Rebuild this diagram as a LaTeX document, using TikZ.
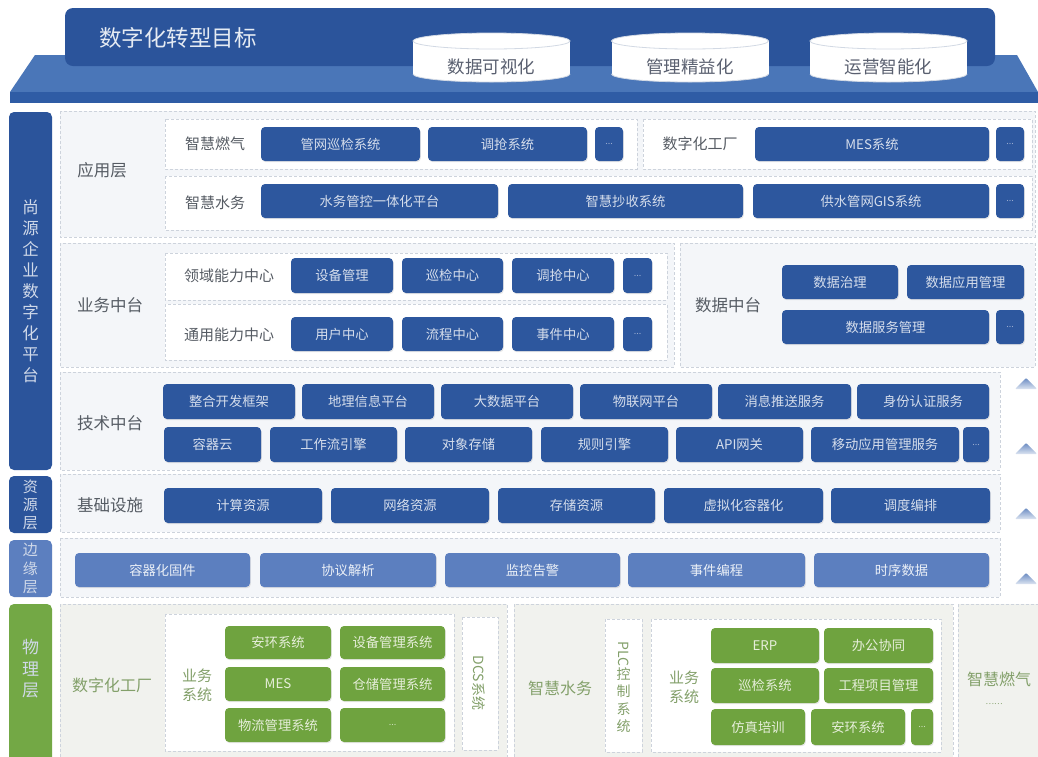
\documentclass[tikz,border=0pt]{standalone}
\usepackage{fontspec}
\setmainfont{Noto Sans CJK SC}
\usetikzlibrary{shadows}
\definecolor{dblue}{HTML}{2B549B}
\definecolor{band}{HTML}{4A76B8}
\definecolor{strip}{HTML}{2F5CA5}
\definecolor{btnblue}{HTML}{2D579E}
\definecolor{edgeblue}{HTML}{5C7FBF}
\definecolor{gbtncol}{HTML}{6FA33F}
\definecolor{gside}{HTML}{73A845}
\definecolor{regfill}{HTML}{F4F6F9}
\definecolor{regline}{HTML}{CDD3DC}
\definecolor{pfill}{HTML}{F1F2EE}
\definecolor{lbltext}{HTML}{555B63}
\definecolor{glbl}{HTML}{83A06A}
\definecolor{btntext}{HTML}{D6DEEC}
\definecolor{gtext}{HTML}{E6EEDA}
\definecolor{dotsc}{HTML}{9DB0D2}
\definecolor{cylline}{HTML}{D2D9E4}
\definecolor{cyltext}{HTML}{5A6070}
\definecolor{arrtop}{HTML}{6A8BC2}
\definecolor{arrbot}{HTML}{DCE4F1}

\newcommand\ZBox[7]{\node[#1, minimum width={(#5-#3)*1pt}, minimum height={(#6-#4)*1pt}] (#2) at ({(#3+#5)/2},{(#4+#6)/2}) {#7};}

\tikzset{
 base/.style={inner sep=0pt, outer sep=0pt, align=center},
 btn/.style={base, rounded corners=4pt, fill=btnblue, text=btntext, font=\fontsize{13.3}{15}\selectfont,
   drop shadow={opacity=0.18, shadow xshift=0.8pt, shadow yshift=-1.2pt}},
 ebtn/.style={btn, fill=edgeblue, text=white!88!edgeblue},
 gbtn/.style={btn, fill=gbtncol, text=gtext},
 dots/.style={btn, font=\fontsize{9}{10}\selectfont, text=dotsc},
 gdots/.style={gbtn, font=\fontsize{9}{10}\selectfont, text=gtext!80!gbtncol},
 region/.style={fill=regfill, draw=regline, dash pattern=on 3pt off 2pt, line width=0.7pt},
 pregion/.style={fill=pfill, draw=regline, dash pattern=on 3pt off 2pt, line width=0.7pt},
 wbox/.style={fill=white, draw=regline, dash pattern=on 3pt off 2pt, line width=0.7pt},
 lbl/.style={base, text=lbltext, font=\fontsize{16.5}{19}\selectfont},
 sublbl/.style={base, text=lbltext, font=\fontsize{15}{17}\selectfont},
 glabel/.style={base, text=glbl, font=\fontsize{16}{19}\selectfont},
 gsub/.style={base, text=glbl, font=\fontsize{15}{19}\selectfont},
 side/.style={base, rounded corners=5pt, text=white!78!dblue, font=\fontsize{16.5}{21}\selectfont},
 cyltxt/.style={base, text=cyltext, font=\fontsize{17.5}{20}\selectfont},
 arr/.style={top color=arrtop, bottom color=arrbot, rounded corners=1pt},
}

\begin{document}
\begin{tikzpicture}[x=1pt,y=-1pt]
\path[use as bounding box] (0,0) rectangle (1038,756);
\clip (0,0) rectangle (1038,756);
\fill[white] (0,0) rectangle (1038,756);

% ---------- top banner ----------
\fill[band] (35,55) -- (1017,55) -- (1038,92) -- (10,92) -- cycle;
\fill[strip] (10,92) rectangle (1038,103);
\fill[dblue, rounded corners=8pt] (65,8) rectangle (995,66);
\node[base, anchor=west, text=white!88!dblue, font=\fontsize{22.5}{26}\selectfont] (title) at (99,38) {数字化转型目标};

\foreach \cx/\nm/\tx in {491.5/c1/数据可视化, 690/c2/管理精益化, 888.5/c3/运营智能化}{
  \fill[white] (\cx,74) ellipse[x radius=78.5, y radius=8];
  \fill[white] ({\cx-78.5},41) rectangle ({\cx+78.5},74);
  \draw[cylline, line width=0.8pt] ({\cx+78.5},74) arc[start angle=0, end angle=180, x radius=78.5, y radius=8];
  \draw[cylline, line width=0.8pt, fill=white] (\cx,41) ellipse[x radius=78.5, y radius=8];
  \node[cyltxt] (\nm) at (\cx,67) {\tx};
}

% ---------- left sidebar ----------
\ZBox{side, fill=dblue}{sbA}{9}{112}{52}{470}{尚\\源\\企\\业\\数\\字\\化\\平\\台}
\ZBox{side, fill=dblue, font=\fontsize{15}{18}\selectfont}{sbB}{9}{476}{52}{533}{资\\源\\层}
\ZBox{side, fill=edgeblue, font=\fontsize{15}{18.5}\selectfont}{sbC}{9}{540}{52}{597}{边\\缘\\层}
\fill[gside, rounded corners=5pt] (9,604) rectangle (52,780);
\node[side, font=\fontsize{17}{21.5}\selectfont] (sbD) at (30.5,669) {物\\理\\层};

% ---------- application layer ----------
\draw[region] (60,111) rectangle (1035,237);
\draw[wbox] (165,119) rectangle (637,169);
\draw[wbox] (643,119) rectangle (1032,169);
\draw[wbox] (165,176) rectangle (1032,230);
\node[lbl] (app) at (102,170) {应用层};
\node[sublbl] (gas) at (215,144) {智慧燃气};
\node[sublbl] (wat) at (215,203) {智慧水务};
\node[sublbl] (fac) at (700,144) {数字化工厂};
\ZBox{btn}{a1}{261}{127}{420}{161}{管网巡检系统}
\ZBox{btn}{a2}{428}{127}{587}{161}{调抢系统}
\ZBox{dots}{a3}{595}{127}{623}{161}{...}
\ZBox{btn}{a4}{755}{127}{989}{161}{MES系统}
\ZBox{dots}{a5}{996}{127}{1024}{161}{...}
\ZBox{btn}{a6}{261}{184}{498}{218}{水务管控一体化平台}
\ZBox{btn}{a7}{508}{184}{743}{218}{智慧抄收系统}
\ZBox{btn}{a8}{753}{184}{989}{218}{供水管网GIS系统}
\ZBox{dots}{a9}{996}{184}{1024}{218}{...}

% ---------- business middle platform ----------
\draw[region] (60,243) rectangle (674,367);
\draw[wbox] (165,253) rectangle (667,300);
\draw[wbox] (165,304) rectangle (667,360);
\draw[region] (680,243) rectangle (1035,367);
\node[lbl] (biz) at (110,305) {业务中台};
\node[sublbl] (dom) at (229,276) {领域能力中心};
\node[sublbl] (gen) at (229,335) {通用能力中心};
\ZBox{btn}{b1}{291}{258}{393}{293}{设备管理}
\ZBox{btn}{b2}{402}{258}{503}{293}{巡检中心}
\ZBox{btn}{b3}{512}{258}{614}{293}{调抢中心}
\ZBox{dots}{b4}{623}{258}{652}{293}{...}
\ZBox{btn}{b5}{291}{317}{393}{351}{用户中心}
\ZBox{btn}{b6}{402}{317}{503}{351}{流程中心}
\ZBox{btn}{b7}{512}{317}{614}{351}{事件中心}
\ZBox{dots}{b8}{623}{317}{652}{351}{...}
\node[lbl] (dat) at (728,305) {数据中台};
\ZBox{btn}{d1}{782}{265}{898}{299}{数据治理}
\ZBox{btn}{d2}{907}{265}{1024}{299}{数据应用管理}
\ZBox{btn}{d3}{782}{310}{989}{344}{数据服务管理}
\ZBox{dots}{d4}{996}{310}{1024}{344}{...}

% ---------- technology middle platform ----------
\draw[region] (60,372) rectangle (1000,470);
\node[lbl] (tech) at (110,423) {技术中台};
\ZBox{btn}{t1}{163}{384}{295}{419}{整合开发框架}
\ZBox{btn}{t2}{302}{384}{434}{419}{地理信息平台}
\ZBox{btn}{t3}{441}{384}{573}{419}{大数据平台}
\ZBox{btn}{t4}{580}{384}{712}{419}{物联网平台}
\ZBox{btn}{t5}{718}{384}{851}{419}{消息推送服务}
\ZBox{btn}{t6}{857}{384}{989}{419}{身份认证服务}
\ZBox{btn}{t7}{164}{427}{261}{462}{容器云}
\ZBox{btn}{t8}{270}{427}{397}{462}{工作流引擎}
\ZBox{btn}{t9}{405}{427}{532}{462}{对象存储}
\ZBox{btn}{t10}{541}{427}{668}{462}{规则引擎}
\ZBox{btn}{t11}{676}{427}{803}{462}{API网关}
\ZBox{btn}{t12}{811}{427}{959}{462}{移动应用管理服务}
\ZBox{dots}{t13}{963}{427}{989}{462}{...}

% ---------- infrastructure ----------
\draw[region] (60,474) rectangle (1000,532);
\node[lbl] (infra) at (110,505) {基础设施};
\ZBox{btn}{r1}{164}{488}{322}{523}{计算资源}
\ZBox{btn}{r2}{331}{488}{489}{523}{网络资源}
\ZBox{btn}{r3}{498}{488}{655}{523}{存储资源}
\ZBox{btn}{r4}{664}{488}{823}{523}{虚拟化容器化}
\ZBox{btn}{r5}{831}{488}{990}{523}{调度编排}

% ---------- edge layer ----------
\draw[region] (60,538) rectangle (1000,597);
\ZBox{ebtn}{e1}{75}{553}{250}{587}{容器化固件}
\ZBox{ebtn}{e2}{260}{553}{436}{587}{协议解析}
\ZBox{ebtn}{e3}{445}{553}{620}{587}{监控告警}
\ZBox{ebtn}{e4}{628}{553}{805}{587}{事件编程}
\ZBox{ebtn}{e5}{814}{553}{989}{587}{时序数据}

% ---------- up arrows ----------
\foreach \yy in {378,443,508,573}{
  \shade[arr] (1015,{\yy+11}) -- (1026,\yy) -- (1037,{\yy+11}) -- cycle;
}

% ---------- physical layer ----------
\draw[pregion] (60,604) rectangle (507,770);
\draw[pregion] (514,604) rectangle (953,770);
\draw[pregion] (958,604) rectangle (1050,770);

\node[glabel] (pfac) at (112,685) {数字化工厂};
\draw[wbox] (165,614) rectangle (454,751);
\node[gsub] (pbiz1) at (197,685) {业务\\系统};
\ZBox{gbtn}{g1}{225}{626}{331}{659}{安环系统}
\ZBox{gbtn}{g2}{340}{626}{445}{659}{设备管理系统}
\ZBox{gbtn}{g3}{225}{667}{331}{701}{MES}
\ZBox{gbtn}{g4}{340}{667}{445}{701}{仓储管理系统}
\ZBox{gbtn}{g5}{225}{708}{331}{742}{物流管理系统}
\ZBox{gdots}{g6}{340}{708}{445}{742}{...}
\draw[wbox] (462,617) rectangle (498,750);
\node[base, text=glbl, font=\fontsize{14}{17}\selectfont, rotate=-90] (dcs) at (479,683) {DCS系统};

\node[glabel] (pwat) at (560,688) {智慧水务};
\draw[wbox] (605,619) rectangle (642,752);
\node[base, text=glbl, font=\fontsize{14}{17.5}\selectfont] (plc) at (623.5,687) {\rotatebox{-90}{PLC}\\控\\制\\系\\统};
\draw[wbox] (651,619) rectangle (941,752);
\node[gsub] (pbiz2) at (684,687) {业务\\系统};
\ZBox{gbtn}{h1}{711}{628}{819}{663}{ERP}
\ZBox{gbtn}{h2}{824}{628}{933}{663}{办公协同}
\ZBox{gbtn}{h3}{711}{668}{819}{703}{巡检系统}
\ZBox{gbtn}{h4}{824}{668}{933}{703}{工程项目管理}
\ZBox{gbtn}{h5}{711}{709}{805}{745}{仿真培训}
\ZBox{gbtn}{h6}{811}{709}{905}{745}{安环系统}
\ZBox{gdots}{h7}{911}{709}{933}{745}{...}

\node[glabel] (pgas) at (999,679) {智慧燃气};
\node[base, text=glbl, font=\fontsize{8}{9}\selectfont] (pmore) at (994,704) {……};
\end{tikzpicture}
\end{document}
